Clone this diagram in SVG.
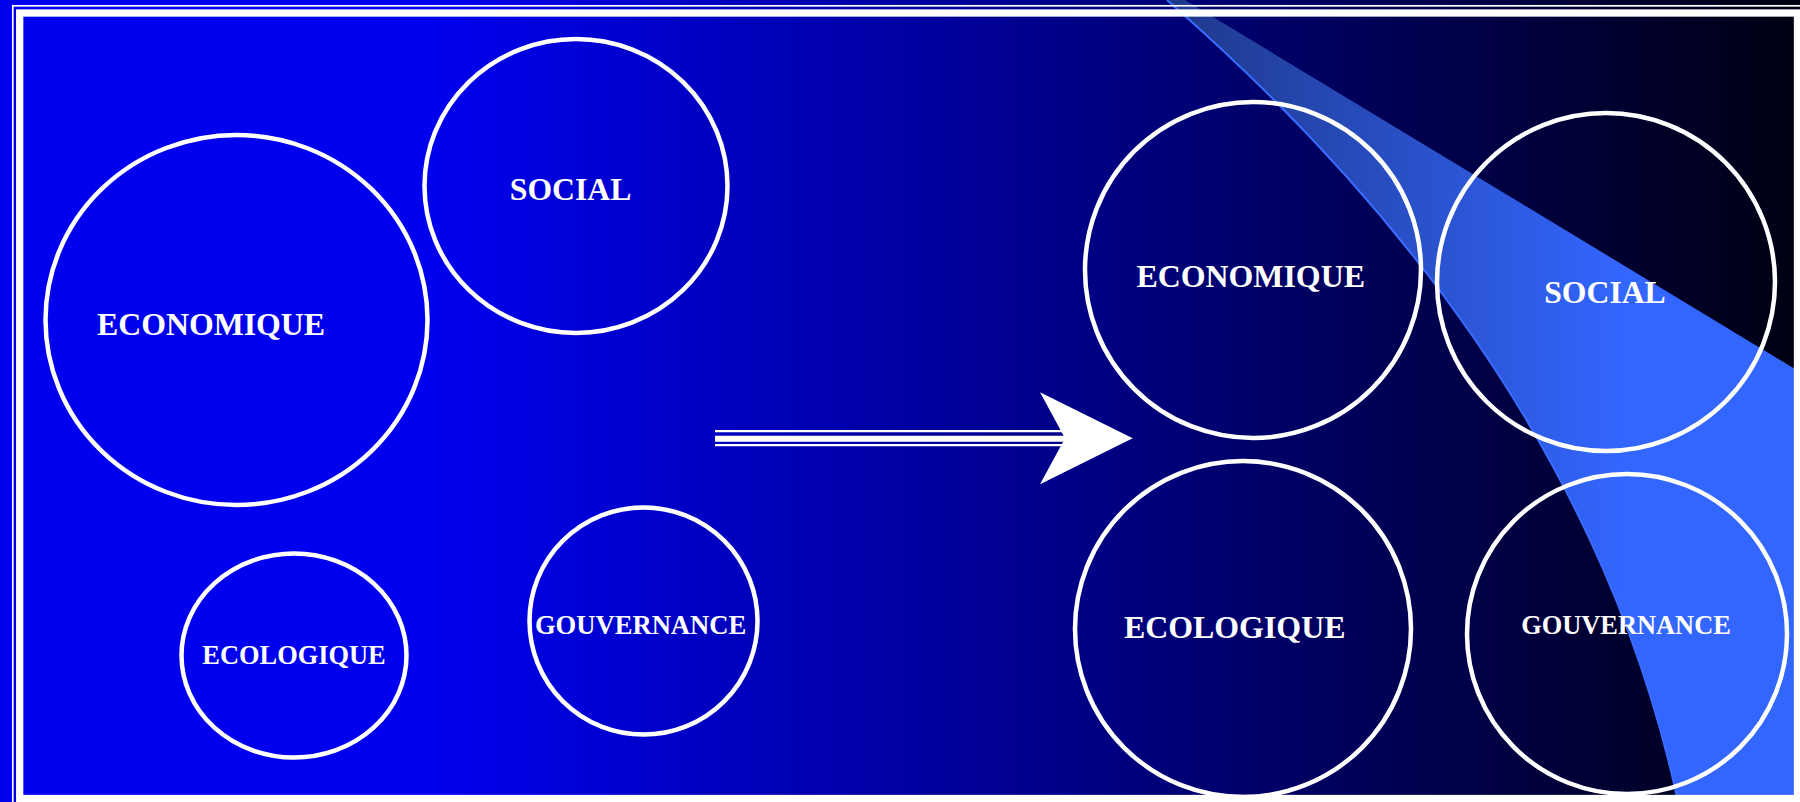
<svg xmlns="http://www.w3.org/2000/svg" width="1800" height="802" viewBox="0 0 1800 802">
  <defs>
    <linearGradient id="bg" gradientUnits="userSpaceOnUse" x1="0" y1="0" x2="1800" y2="0">
      <stop offset="0" stop-color="#0000EE"/>
      <stop offset="0.24" stop-color="#0000EE"/>
      <stop offset="1" stop-color="#000012"/>
    </linearGradient>
    <linearGradient id="beam" gradientUnits="userSpaceOnUse" x1="1170" y1="0" x2="1625" y2="0">
      <stop offset="0" stop-color="#1E388A"/>
      <stop offset="1" stop-color="#3366FF"/>
    </linearGradient>
    <style>
      .c { fill: none; stroke: #FFFFFF; stroke-width: 4.5; }
      .t { fill: #FFFFFF; font-family: "Liberation Serif", "Times New Roman", serif; font-weight: bold; text-anchor: middle; }
    </style>
  </defs>

  <!-- background -->
  <rect x="0" y="0" width="1800" height="802" fill="url(#bg)"/>

  <!-- light beam -->
  <g id="beam-shape">
    <path d="M1167,0 L1185,0 L1800,372 L1800,802 L1678,802 Q1585,365 1167,0 Z" fill="url(#beam)"/>
    <path d="M1167,0 Q1585,365 1678,802" fill="none" stroke="#3A6CFF" stroke-width="2"/>
  </g>

  <!-- frame -->
  <g id="frame" fill="none" stroke="#FFFFFF">
    <rect x="12.8" y="5.8" width="1800" height="802" stroke-width="1.7"/>
    <rect x="19.7" y="13" width="1777.8" height="785.5" stroke-width="7.3"/>
  </g>

  <!-- left side nodes -->
  <g id="eco-left">
    <ellipse class="c" cx="236.5" cy="320" rx="191" ry="185"/>
    <text class="t" x="211" y="335" font-size="31.8">ECONOMIQUE</text>
  </g>
  <g id="social-left">
    <ellipse class="c" cx="576" cy="186" rx="151.5" ry="147"/>
    <text class="t" x="570.6" y="200" font-size="31.7">SOCIAL</text>
  </g>
  <g id="ecolo-left">
    <ellipse class="c" cx="294" cy="655.5" rx="112.5" ry="102"/>
    <text class="t" x="294" y="663.5" font-size="26.4">ECOLOGIQUE</text>
  </g>
  <g id="gouv-left">
    <ellipse class="c" cx="643.5" cy="621" rx="114" ry="113.6"/>
    <text class="t" x="640.6" y="634" font-size="26.6">GOUVERNANCE</text>
  </g>

  <!-- connector -->
  <g id="connectors">
    <line x1="715" y1="431.2" x2="1067" y2="431.2" stroke="#FFFFFF" stroke-width="2.3"/>
    <line x1="715" y1="438.7" x2="1067" y2="438.7" stroke="#FFFFFF" stroke-width="6"/>
    <line x1="715" y1="445.2" x2="1067" y2="445.2" stroke="#FFFFFF" stroke-width="2.3"/>
    <polygon points="1040,392.3 1132.7,438.3 1040,484.3 1065,438.3" fill="#FFFFFF"/>
  </g>

  <!-- right side nodes -->
  <g id="eco-right">
    <circle class="c" cx="1253" cy="270" r="168"/>
    <text class="t" x="1250.7" y="287" font-size="31.9">ECONOMIQUE</text>
  </g>
  <g id="social-right">
    <circle class="c" cx="1606" cy="282" r="169"/>
    <text class="t" x="1605" y="303" font-size="31.7">SOCIAL</text>
  </g>
  <g id="ecolo-right">
    <circle class="c" cx="1243" cy="629" r="168"/>
    <text class="t" x="1234.7" y="638" font-size="31.9">ECOLOGIQUE</text>
  </g>
  <g id="gouv-right">
    <circle class="c" cx="1627" cy="634" r="160"/>
    <text class="t" x="1626" y="633.5" font-size="26.4">GOUVERNANCE</text>
  </g>
</svg>
